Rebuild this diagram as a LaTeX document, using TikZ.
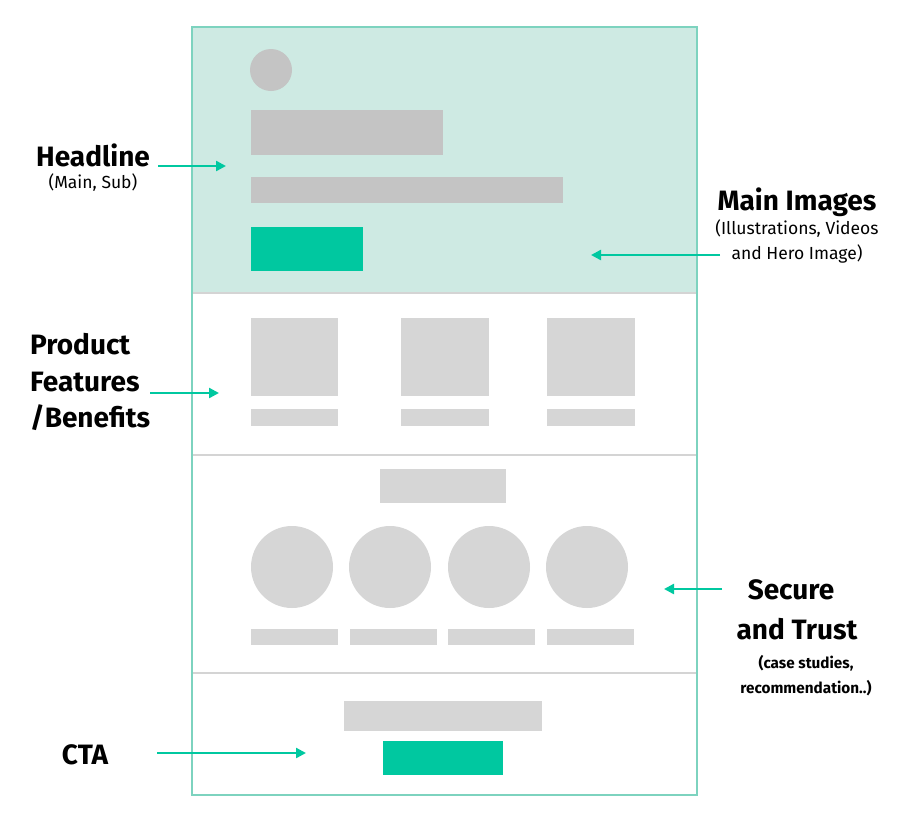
\documentclass[tikz,border=0pt]{standalone}
\usepackage{fontspec}
\setmainfont{Fira Sans}
\usetikzlibrary{arrows.meta}
\definecolor{frameg}{HTML}{7DD3BF}
\definecolor{headfill}{HTML}{CEEAE3}
\definecolor{accent}{HTML}{00C8A0}
\definecolor{darkgray}{HTML}{C4C4C4}
\definecolor{lightgray}{HTML}{D6D6D6}
\definecolor{divider}{HTML}{D4D4D4}
\tikzset{
  block/.style={fill=lightgray},
  hblock/.style={fill=darkgray},
  pointer/.style={draw=accent, line width=2.4pt, -{Triangle[length=10pt,width=10pt]}},
  big/.style={font=\fontsize{28}{30}\selectfont\bfseries, inner sep=0pt},
  small/.style={font=\fontsize{17.5}{20}\selectfont, inner sep=0pt},
  smallb/.style={font=\fontsize{15.3}{18}\selectfont\bfseries, inner sep=0pt},
}
\begin{document}
\begin{tikzpicture}[x=1pt,y=-1pt]
\useasboundingbox (0,0) rectangle (900,812);
% header
\fill[headfill] (192,27) rectangle (697,293);
% dividers
\draw[divider, line width=1.2pt] (192,293) -- (697,293);
\draw[divider, line width=1.2pt] (192,455) -- (697,455);
\draw[divider, line width=1.2pt] (192,673) -- (697,673);
% frame
\draw[frameg, line width=1.6pt] (192,27) rectangle (697,795);
% header content
\fill[hblock] (271,70) circle (21);
\fill[hblock] (251,110) rectangle (443,155);
\fill[hblock] (251,177) rectangle (563,203);
\fill[accent] (251,227) rectangle (363,271);
% features
\fill[block] (251,318) rectangle (338,396);
\fill[block] (401,318) rectangle (489,396);
\fill[block] (547,318) rectangle (635,396);
\fill[block] (251,409) rectangle (338,426);
\fill[block] (401,409) rectangle (489,426);
\fill[block] (547,409) rectangle (635,426);
% trust
\fill[block] (380,469) rectangle (506,503);
\fill[block] (292,567) circle (41);
\fill[block] (390,567) circle (41);
\fill[block] (489,567) circle (41);
\fill[block] (587,567) circle (41);
\fill[block] (251,629) rectangle (338,645);
\fill[block] (350,629) rectangle (437,645);
\fill[block] (448,629) rectangle (535,645);
\fill[block] (547,629) rectangle (634,645);
% cta
\fill[block] (344,701) rectangle (542,731);
\fill[accent] (383,741) rectangle (503,775);
% labels
\node[big] (headline) at (93,155) {Headline};
\node[small] (headsub) at (93,183) {(Main, Sub)};
\node[big] (mainimg) at (797,202) {Main Images};
\node[small] (mainsub1) at (797,229) {(Illustrations, Videos};
\node[small] (mainsub2) at (797,254) {and Hero Image)};
\node[big, anchor=west] (prod1) at (30,344) {Product};
\node[big, anchor=west] (prod2) at (30,382) {Features};
\node[big, anchor=west] (prod3) at (30,418) {/Benefits};
\node[big] (secure1) at (791,590) {Secure};
\node[big] (secure2) at (797,629) {and Trust};
\node[smallb] (securesub1) at (806,663) {(case studies,};
\node[smallb] (securesub2) at (806,688) {recommendation..)};
\node[big] (cta) at (85,755) {CTA};
% arrow coordinates
\coordinate (hA) at (158,166); \coordinate (hB) at (226,166);
\coordinate (mA) at (720,255); \coordinate (mB) at (591,255);
\coordinate (pA) at (150,393); \coordinate (pB) at (219,393);
\coordinate (sA) at (722,589); \coordinate (sB) at (664,589);
\coordinate (cA) at (157,753); \coordinate (cB) at (306,753);
\draw[pointer] (hA) -- (hB);
\draw[pointer] (mA) -- (mB);
\draw[pointer] (pA) -- (pB);
\draw[pointer] (sA) -- (sB);
\draw[pointer] (cA) -- (cB);
\end{tikzpicture}
\end{document}
